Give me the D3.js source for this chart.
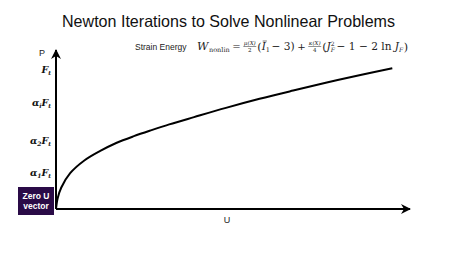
<!DOCTYPE html>
<html><head><meta charset="utf-8">
<script src="https://cdn.jsdelivr.net/npm/d3@7"></script>
<style>body{margin:0;background:#fff}svg{display:block}</style>
</head><body>
<script>
// Data (arbitrary units, 0..100)
const curveU = [0, 0.5, 1.5, 4, 8, 12.5, 17, 22, 27, 32, 39, 48, 57.5, 67, 76.5, 86, 95];
const curveP = [0, 7, 13.5, 22.5, 30.5, 36.5, 41.5, 45.8, 49.6, 53.2, 57.8, 63.6, 69.3, 74.5, 79.5, 84.3, 88.5];
const tickSymbols = ["α1", "α2", "αi", ""];
const tickValues = [22.6, 42.8, 66.7, 87.4];

const W = 474, H = 266;
const svg = d3.select("body").append("svg").attr("width", W).attr("height", H);
const x = d3.scaleLinear().domain([0, 100]).range([56, 410]);
const y = d3.scaleLinear().domain([0, 100]).range([209, 50]);

const defs = svg.append("defs");
defs.append("marker").attr("id", "arr").attr("viewBox", "0 0 10 10").attr("refX", 9).attr("refY", 5)
  .attr("markerWidth", 5).attr("markerHeight", 5).attr("orient", "auto")
  .attr("markerUnits", "strokeWidth")
  .append("path").attr("d", "M0,0 L10,5 L0,10 L3,5 z").attr("fill", "#000");

// Title
svg.append("text").attr("x", 228.5).attr("y", 27).attr("text-anchor", "middle")
  .attr("font-family", "Liberation Sans, Arial, sans-serif").attr("font-size", 16.5).attr("fill", "#111")
  .attr("textLength", 333).attr("lengthAdjust", "spacingAndGlyphs")
  .text("Newton Iterations to Solve Nonlinear Problems");

// Axes
svg.append("line").attr("x1", x(0)).attr("y1", y(0)).attr("x2", x(0)).attr("y2", y(100))
  .attr("stroke", "#000").attr("stroke-width", 2).attr("marker-end", "url(#arr)");
svg.append("line").attr("x1", x(0)).attr("y1", y(0)).attr("x2", x(100)).attr("y2", y(0))
  .attr("stroke", "#000").attr("stroke-width", 2).attr("marker-end", "url(#arr)");

// Axis labels
svg.append("text").attr("x", 42).attr("y", 56).attr("text-anchor", "middle")
  .attr("font-family", "Liberation Sans, Arial, sans-serif").attr("font-size", 9).attr("fill", "#222").text("P");
svg.append("text").attr("x", 227).attr("y", 223).attr("text-anchor", "middle")
  .attr("font-family", "Liberation Sans, Arial, sans-serif").attr("font-size", 9).attr("fill", "#222").text("U");

// Y tick labels (math style)
const tk = svg.append("g").selectAll("text").data(tickValues).join("text")
  .attr("x", 51).attr("y", d => y(d) + 3).attr("text-anchor", "end")
  .attr("font-family", "DejaVu Serif, serif").attr("font-style", "italic").attr("font-weight", "bold")
  .attr("font-size", 9.5).attr("fill", "#111");
tk.each(function(d, i) {
  const t = d3.select(this);
  const s = tickSymbols[i];
  if (s) {
    t.append("tspan").text("α");
    t.append("tspan").attr("font-size", 6).attr("dy", 2).text(s.slice(1));
    t.append("tspan").attr("dy", -2).text("F");
  } else {
    t.append("tspan").text("F");
  }
  t.append("tspan").attr("font-size", 6).attr("dy", 2).text("t");
});

// Curve
const pts = curveU.map((u, i) => [u, curveP[i]]);
svg.append("path").datum(pts)
  .attr("d", d3.line().x(d => x(d[0])).y(d => y(d[1])).curve(d3.curveCatmullRom.alpha(0.5)))
  .attr("fill", "none").attr("stroke", "#000").attr("stroke-width", 2);

// Zero U vector box
svg.append("rect").attr("x", 18).attr("y", 187).attr("width", 36).attr("height", 28).attr("fill", "#2a0b47");
svg.append("text").attr("x", 36).attr("y", 198.5).attr("text-anchor", "middle")
  .attr("font-family", "Liberation Sans, Arial, sans-serif").attr("font-weight", "bold").attr("font-size", 8.5)
  .attr("fill", "#fff").text("Zero U");
svg.append("text").attr("x", 36).attr("y", 208.5).attr("text-anchor", "middle")
  .attr("font-family", "Liberation Sans, Arial, sans-serif").attr("font-weight", "bold").attr("font-size", 8.5)
  .attr("fill", "#fff").text("vector");

// Strain energy formula
const base = 50;
svg.append("text").attr("x", 135).attr("y", base)
  .attr("font-family", "Liberation Sans, Arial, sans-serif").attr("font-size", 8.5).attr("fill", "#222").text("Strain Energy");
const fOuter = svg.append("g");
const f = fOuter.append("g").attr("font-family", "DejaVu Serif, serif").attr("fill", "#222");
let cx = 0;
function T(s, size, italic, dy, advance = true, gap = 0) {
  const t = f.append("text").attr("x", cx).attr("y", base + (dy || 0)).attr("font-size", size)
    .attr("font-style", italic ? "italic" : "normal").text(s);
  const w = t.node().getComputedTextLength();
  if (advance) cx += w + gap;
  return w;
}
function frac(num, den) {
  const nw = f.append("text").attr("font-size", 5.5).attr("font-style", "italic").text(num);
  const w = nw.node().getComputedTextLength() + 1;
  nw.attr("x", cx + w / 2).attr("y", base - 5).attr("text-anchor", "middle");
  f.append("line").attr("x1", cx).attr("x2", cx + w).attr("y1", base - 3.5).attr("y2", base - 3.5)
    .attr("stroke", "#222").attr("stroke-width", 0.5);
  f.append("text").attr("font-size", 5.5).attr("x", cx + w / 2).attr("y", base + 2).attr("text-anchor", "middle").text(den);
  cx += w + 1;
}
T("W", 11, true, 0, true, 0.5);
T("nonlin", 6.5, false, 2, true, 2.5);
T("=", 10, false, 0, true, 2.5);
frac("μ(X)", "2");
T("(", 11, false, 1);
const ix = cx;
const iw = T("I", 10.5, true, 0);
f.append("line").attr("x1", ix + 1).attr("x2", ix + iw + 1).attr("y1", base - 9).attr("y2", base - 9)
  .attr("stroke", "#222").attr("stroke-width", 0.6);
T("1", 6.5, false, 2, true, 1.5);
T("− 3)", 10.5, false, 0, true, 2.5);
T("+", 10, false, 0, true, 2.5);
frac("κ(X)", "4");
T("(", 11, false, 1);
T("J", 10.5, true, 0);
T("2", 6, false, -4, false);
T("F", 6, true, 2.5, true, 1.5);
T("− 1 − 2 ln", 10.5, false, 0, true, 3);
T("J", 10.5, true, 0);
T("F", 6, true, 2.5, true, 0.5);
T(")", 11, false, 1);
const sc = (408 - 197) / cx;
f.attr("transform", `translate(197,${base}) scale(${sc},1) translate(0,${-base})`);
</script>
</body></html>
